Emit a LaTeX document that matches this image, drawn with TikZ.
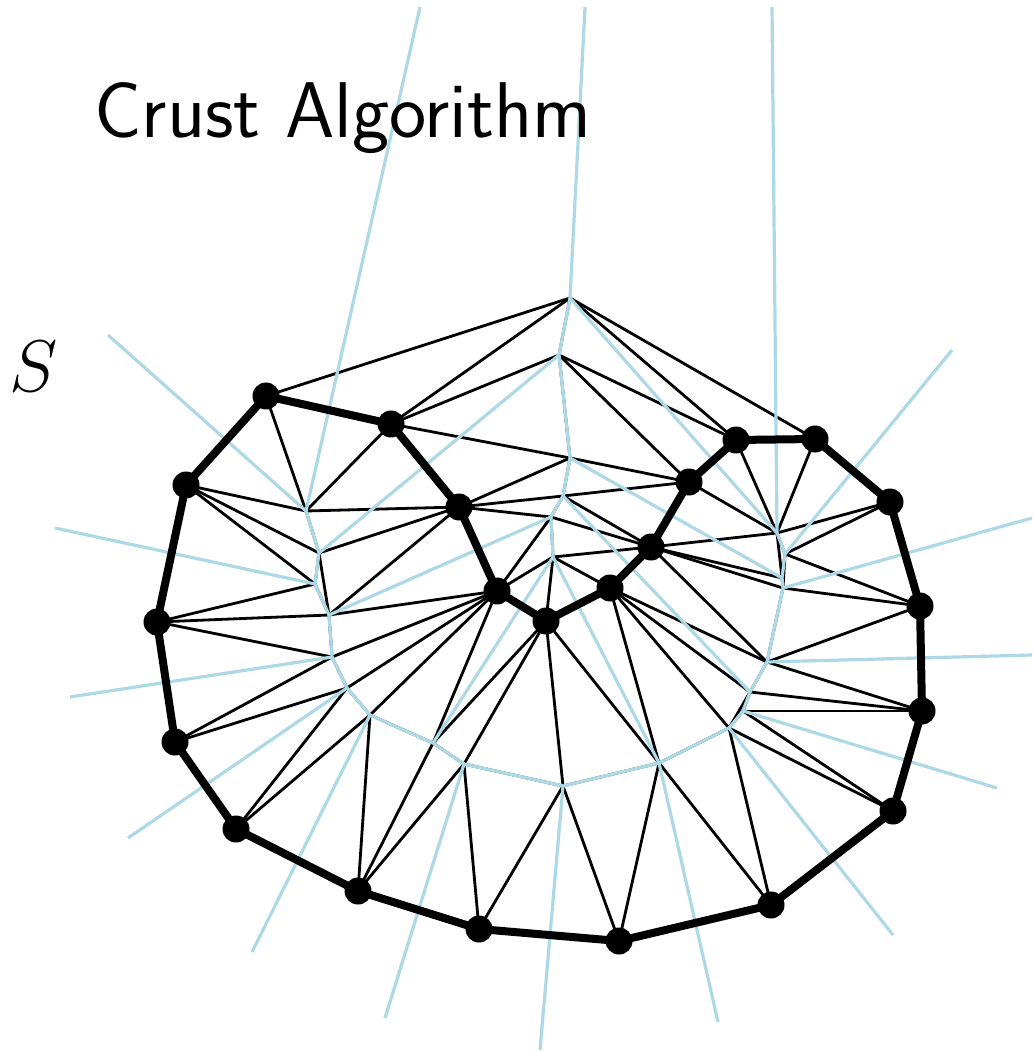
\documentclass[tikz,border=0pt]{standalone}
\usepackage{fontspec}
\definecolor{vorblue}{RGB}{173,216,230}
\begin{document}
\begin{tikzpicture}[x=0.5pt, y=-0.5pt,
    del/.style={black, line width=1.4pt},
    vor/.style={vorblue, line width=1.6pt},
    crust/.style={black, line width=4pt, line join=round}]
  \useasboundingbox (0,0) rectangle (1032,1052);
  % sample points, along the curve
  \foreach \n/\x/\y in {1/266/396, 2/391/424, 3/459/507, 4/497/591, 5/546/621, 6/610/588,
      7/651/547, 8/689/482, 9/736/440, 10/815/439, 11/890/502, 12/920/606, 13/922/711,
      14/893/811, 15/771/905, 16/619/941, 17/479/929, 18/358/891, 19/236/829, 20/175/742,
      21/157/622, 22/186/485}
    \coordinate (p\n) at (\x,\y);
  % voronoi vertices
  \foreach \n/\x/\y in {1/570/298, 2/559/355, 3/570/458, 4/563/496, 5/551/517, 6/553/557,
      7/306/511, 8/319/553, 9/315/584, 10/329/615, 11/332/657, 12/347/688, 13/370/715,
      14/433/743, 15/464/764, 16/563/786, 17/659/763, 18/729/728, 19/743/711, 20/750/692,
      21/767/662, 22/783/588, 23/785/554, 24/777/533}
    \coordinate (v\n) at (\x,\y);
  \coordinate (vx) at (782,578);
  % far ends of the unbounded voronoi edges
  \foreach \n/\x/\y in {1/585/7, 2/420/7, 3/108/335, 4/55/528, 5/70/697, 6/128/838,
      7/252/952, 8/385/1018, 9/540/1050, 10/718/1022, 11/893/935, 12/997/788,
      13/1032/655, 14/1032/518, 15/952/350, 16/772/7}
    \coordinate (r\n) at (\x,\y);

  \foreach \a/\b in {p1/v1, p2/v1, v1/p9, v1/p10, v1/v2, p2/v2, v2/p9, v2/p8, v2/v3,
      p2/v3, v3/p8, v3/p3, v3/v4, p3/v4, v4/p8, v4/p7, v4/v5, p3/v5, v5/p7, v5/p4, v5/v6,
      v6/p4, v6/p5, v6/p6, v6/p7,
      p1/v7, p2/v7, p3/v7, p22/v7, v7/v8, p3/v8, p22/v8, v8/v9, v8/v10,
      p22/v9, p21/v9, v9/v10, p3/v10, p4/v10, p21/v10, v10/v11,
      p21/v11, p20/v11, p4/v11, v11/v12, p20/v12, p19/v12, p4/v12, v12/v13,
      p19/v13, p18/v13, p4/v13, v13/v14, p4/v14, p5/v14, p18/v14, v14/v15,
      p5/v15, p18/v15, p17/v15, v15/v16, p5/v16, p17/v16, p16/v16, v16/v17,
      p5/v17, p6/v17, p16/v17, p15/v17, v17/v18, p6/v18, p15/v18, p14/v18, v18/v19, v18/v20,
      p14/v19, p13/v19, v19/v20, p6/v20, p13/v20, v20/v21,
      p6/v21, p7/v21, p13/v21, p12/v21, v21/v22, p7/v22, p12/v22, v22/vx, v22/v23,
      p7/vx, v24/vx, vx/v23, p12/v23, p11/v23, v23/v24,
      p7/v24, p8/v24, p9/v24, p10/v24, p11/v24}
    \draw[del] (\a) -- (\b);

  \foreach \a/\b in {v1/v2, v2/v3, v3/v4, v4/v5, v5/v6, v1/v24, v2/v8, v3/vx, v4/v20,
      v5/v10, v6/v14, v6/v17, v7/v8, v8/v9, v9/v10, v10/v11, v11/v12, v12/v13, v13/v14,
      v14/v15, v15/v16, v16/v17, v17/v18, v18/v19, v19/v20, v20/v21, v21/v22, v22/vx,
      vx/v23, v23/v24,
      v1/r1, v7/r2, v7/r3, v9/r4, v11/r5, v12/r6, v13/r7, v15/r8, v16/r9, v17/r10,
      v18/r11, v19/r12, v21/r13, v22/r14, v23/r15, v24/r16}
    \draw[vor] (\a) -- (\b);

  \draw[crust] (p1) \foreach \n in {2,...,22} { -- (p\n) } -- cycle;
  \foreach \n in {1,...,22} \fill (p\n) circle (6.75pt);

  \node[anchor=base west, inner sep=0pt, font=\fontsize{39.5}{44}\selectfont\sffamily] (title) at (94,138) {Crust Algorithm};
  \node[anchor=base west, inner sep=0pt, font=\Huge] (slabel) at (9,392) {\scalebox{1.47}{$S$}};
\end{tikzpicture}
\end{document}
